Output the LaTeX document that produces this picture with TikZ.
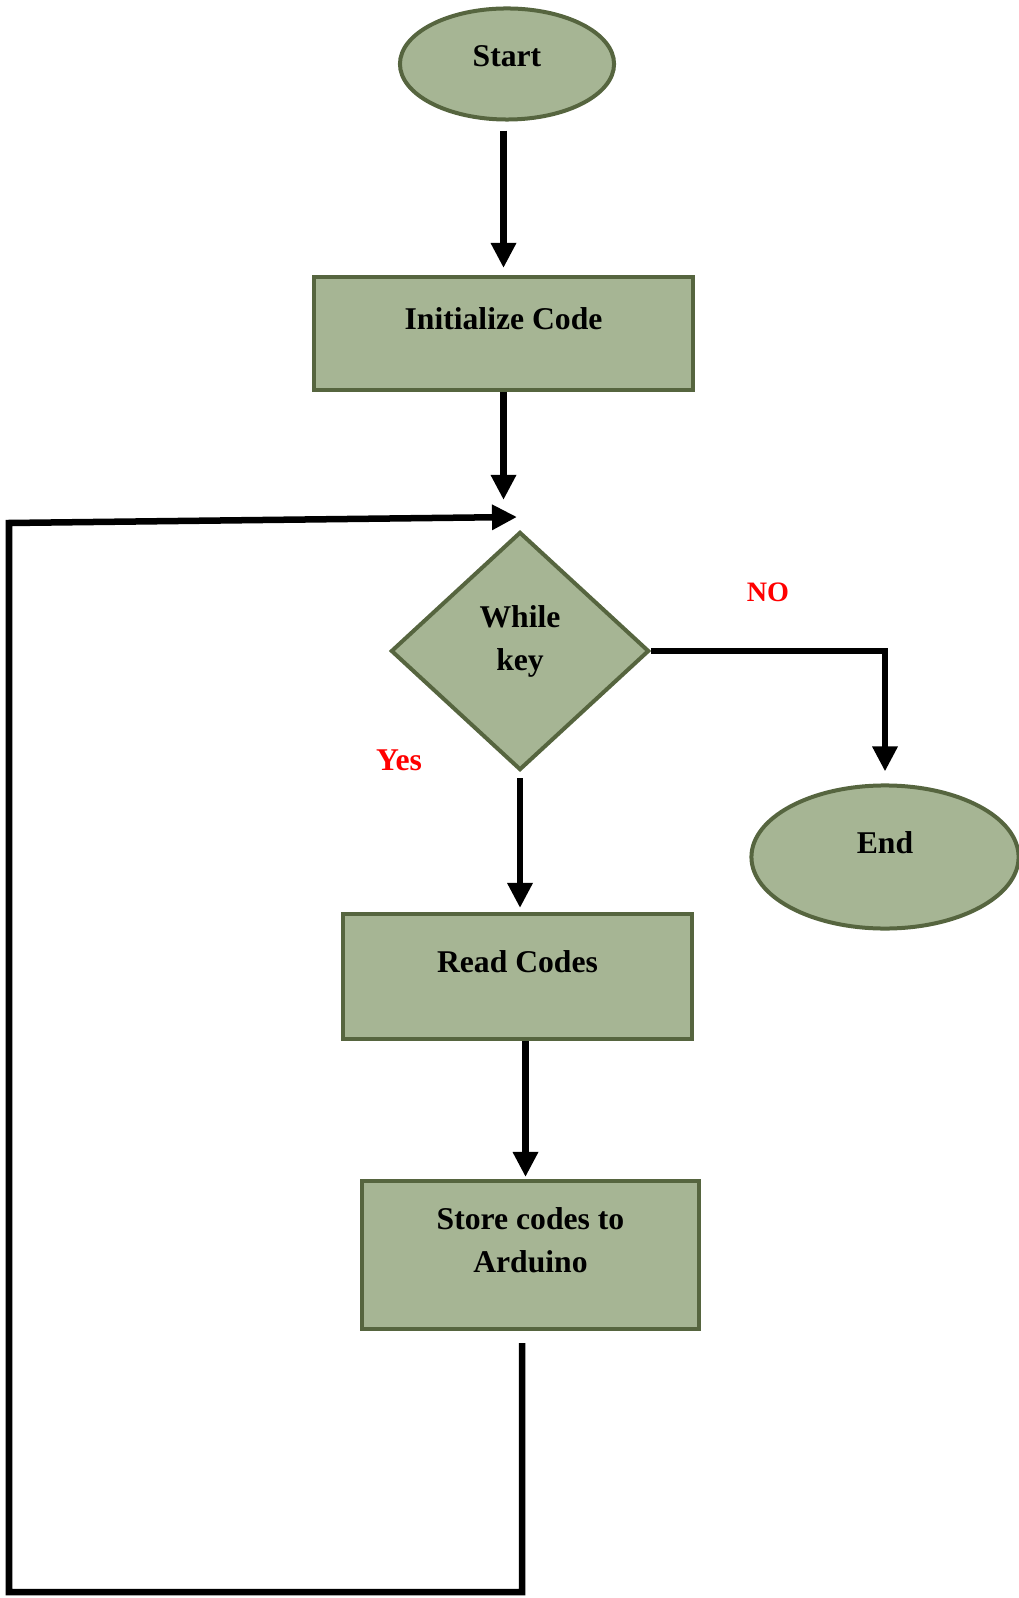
\documentclass[tikz,border=0pt]{standalone}
\usepackage{fontspec}
\setmainfont{Liberation Serif}
\usetikzlibrary{shapes.geometric, arrows.meta}
\definecolor{boxfill}{HTML}{A6B594}
\definecolor{boxline}{HTML}{56653F}
\tikzset{
	base/.style={draw=boxline, fill=boxfill, line width=0.04cm, font=\fontsize{9}{12}\selectfont\bfseries, align=center},
	startstop/.style={base, ellipse},
	process/.style={base, rectangle, text depth=0.29cm},
	decision/.style={base, diamond, text depth=0.26cm},
	flow/.style={line width=0.065cm, -{Triangle[length=0.25cm, width=0.24cm]}},
	answer/.style={text=red, font=\fontsize{9}{12}\selectfont\bfseries}
}
\begin{document}
\begin{tikzpicture}[x=0.01cm, y=-0.01cm]
	\useasboundingbox (0,0) rectangle (1019,1598);
	
	% Bloques del diagrama
	\node[startstop, minimum width=2.14cm, minimum height=1.11cm, text depth=0.15cm] (start) at (507,64) {Start};
	\node[process, minimum width=3.79cm, minimum height=1.13cm] (init) at (503.5,333.5) {Initialize Code};
	\node[decision, minimum width=2.58cm, minimum height=2.38cm] (key) at (520,651) {While\\key};
	\node[startstop, minimum width=2.67cm, minimum height=1.43cm, text depth=0.28cm] (end) at (885,857) {End};
	\node[process, minimum width=3.49cm, minimum height=1.25cm] (read) at (517.5,976.5) {Read Codes};
	\node[process, minimum width=3.37cm, minimum height=1.48cm, text depth=0.30cm] (store) at (530.5,1255) {Store codes to\\Arduino};
	
	% Etiquetas de la decision
	\node[answer, font=\fontsize{8}{10}\selectfont\bfseries] (nolbl) at (768,592) {NO};
	\node[answer] (yeslbl) at (399,760) {Yes};
	
	% Puntos del lazo de retorno
	\coordinate (loopbr) at (522,1592);
	\coordinate (loopbl) at (9,1592);
	\coordinate (looptl) at (9,523);
	\coordinate (loopin) at (517,517);
	
	% Flechas principales
	\draw[flow, shorten <=0.09cm, shorten >=0.07cm] (init.north |- start.south) -- (init.north);
	\draw[flow, shorten >=0.30cm] (init.south) -- (init.south |- key.north);
	\draw[flow, shorten <=0.06cm, shorten >=0.04cm] (key.south) -- (key.south |- read.north);
	\draw[flow, shorten >=0.02cm] ([xshift=-0.05cm]store.north |- read.south) -- ([xshift=-0.05cm]store.north);
	
	% Rama NO hacia el final
	\draw[flow, shorten >=0.12cm] (key.east) -- (key.east -| end.north) -- (end.north);
	
	% Lazo de retorno
	\draw[flow, shorten <=0.12cm] (store.south -| loopbr) -- (loopbr) -- (loopbl) -- (looptl) -- (loopin);
\end{tikzpicture}
\end{document}
